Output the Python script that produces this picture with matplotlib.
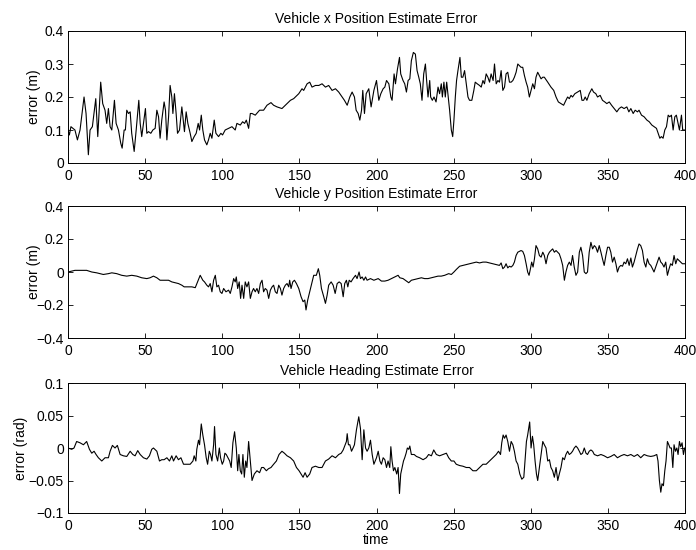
import matplotlib
matplotlib.use("Agg")
import matplotlib.pyplot as plt

plt.rcParams['font.family'] = ['Liberation Sans', 'DejaVu Sans']

# ---------------- data ----------------
x_time = [0, 0.9, 1.9, 4.5, 6.1, 7.8, 10.4, 11.7, 13.2, 14.3, 15.8, 18, 19.3, 21.2, 22.5, 24, 25.1, 26.2,
          27.3, 28.4, 30.1, 31.2, 32.7, 34.2, 35.1, 36.4, 37.2, 38.1, 39.2, 40.3, 41.3, 42.9, 44.2, 45.9,
          46.8, 47.8, 48.9, 50.2, 51.1, 52.2, 53.7, 55, 56.5, 57.6, 58.7, 59.7, 60.8, 62.3, 63.2, 64.1,
          65.2, 66.2, 67.3, 68, 69, 70.1, 71, 72.3, 73.8, 74.9, 75.5, 76.6, 77.7, 79.2, 80.3, 81.8, 83.1,
          84.4, 85.3, 86.4, 87.4, 88.5, 90, 91.1, 92.2, 93.3, 94.8, 95.9, 97.6, 99.1, 100.2, 101.9, 104.1,
          106.3, 108.4, 109.5, 111.7, 113.2, 114.5, 115.6, 117.1, 118.2, 119.3, 121.4, 124.2, 126.8, 129,
          131.6, 133.3, 135.5, 138.7, 142, 144.2, 146.3, 149.6, 151.7, 152.8, 155, 156.7, 158.2, 160.4,
          162.6, 164.7, 166.9, 169, 171.2, 173.4, 175.5, 177.7, 179.2, 181, 182.7, 184.2, 185.7, 186.8,
          188.1, 189.2, 190.3, 191.1, 192.2, 193.3, 195, 196.5, 198.3, 200, 201.5, 202.8, 204.3, 205.4,
          206.5, 208, 209.3, 210.1, 211.4, 212.3, 213.6, 214.9, 215.7, 217.2, 218.3, 219.4, 220.5, 221.6,
          222.6, 223.9, 225.2, 226.3, 227.4, 228.4, 229.5, 230.6, 231.7, 232.5, 233.4, 234.5, 235.1, 236.2,
          237.3, 238.6, 239.9, 240.9, 242, 242.7, 243.7, 244.6, 245.5, 246.3, 247.4, 248.5, 249.4, 250.2,
          251.1, 251.9, 252.8, 254.1, 255, 256, 257.1, 258.2, 259.3, 260.3, 261.8, 263.1, 264, 265.3,
          266.8, 267.9, 269, 270, 271.1, 272.2, 273.3, 274.3, 275.6, 276.5, 277.6, 278.7, 279.7, 280.8,
          281.9, 283, 284, 285.1, 286.2, 287.3, 288.4, 289.4, 290.5, 291.6, 292.7, 293.7, 294.8, 295.9,
          297, 298, 299.1, 300.2, 301.3, 302.4, 303.4, 304.5, 305.6, 306.7, 307.8, 308.8, 311, 313.1,
          314.9, 316.4, 317.9, 319.6, 321.3, 322.8, 323.9, 325, 326.1, 327.1, 328.6, 330.4, 332.1, 333.2,
          334.3, 335.3, 336.4, 337.9, 339.6, 340.7, 342.2, 343.3, 345, 346.5, 348, 349.3, 350.9, 352.4,
          354.1, 355.8, 357.3, 358.8, 360.5, 362.3, 363.6, 364.9, 366.4, 367.7, 369.2, 370.2, 371.8,
          373.5, 375.3, 376.8, 378.5, 380, 381.5, 382.6, 383.7, 384.7, 385.8, 386.9, 388, 389.1, 390.1,
          391.2, 392.3, 393.4, 394.4, 395.5, 396.4, 397.7, 398.5, 399.8]
x_err = [0.1, 0.085, 0.11, 0.1, 0.07, 0.1, 0.2, 0.15, 0.025, 0.1, 0.11, 0.195, 0.08, 0.245, 0.18, 0.16,
         0.12, 0.165, 0.11, 0.1, 0.19, 0.12, 0.1, 0.06, 0.045, 0.1, 0.1, 0.16, 0.15, 0.155, 0.09, 0.035,
         0.1, 0.19, 0.12, 0.08, 0.12, 0.165, 0.09, 0.095, 0.09, 0.1, 0.105, 0.16, 0.14, 0.075, 0.13, 0.185,
         0.16, 0.07, 0.14, 0.235, 0.2, 0.15, 0.21, 0.15, 0.09, 0.1, 0.17, 0.12, 0.095, 0.155, 0.12, 0.09,
         0.065, 0.08, 0.09, 0.12, 0.1, 0.145, 0.1, 0.07, 0.055, 0.07, 0.09, 0.075, 0.13, 0.09, 0.08, 0.09,
         0.085, 0.1, 0.105, 0.11, 0.1, 0.12, 0.115, 0.125, 0.12, 0.13, 0.105, 0.15, 0.15, 0.145, 0.16,
         0.16, 0.175, 0.183, 0.175, 0.17, 0.165, 0.18, 0.19, 0.195, 0.21, 0.225, 0.22, 0.24, 0.245, 0.23,
         0.235, 0.235, 0.24, 0.23, 0.235, 0.22, 0.225, 0.215, 0.2, 0.19, 0.175, 0.2, 0.215, 0.2, 0.16,
         0.15, 0.13, 0.16, 0.22, 0.15, 0.21, 0.225, 0.17, 0.22, 0.25, 0.19, 0.21, 0.225, 0.23, 0.25, 0.24,
         0.2, 0.19, 0.27, 0.24, 0.285, 0.32, 0.27, 0.25, 0.24, 0.215, 0.25, 0.255, 0.31, 0.335, 0.33, 0.28,
         0.26, 0.24, 0.19, 0.27, 0.3, 0.25, 0.2, 0.25, 0.2, 0.19, 0.2, 0.185, 0.23, 0.21, 0.24, 0.2, 0.245,
         0.2, 0.245, 0.21, 0.16, 0.1, 0.08, 0.13, 0.2, 0.25, 0.28, 0.32, 0.26, 0.26, 0.28, 0.24, 0.2, 0.19,
         0.19, 0.22, 0.245, 0.24, 0.235, 0.23, 0.25, 0.24, 0.27, 0.26, 0.245, 0.27, 0.25, 0.3, 0.24, 0.25,
         0.245, 0.28, 0.22, 0.23, 0.27, 0.275, 0.245, 0.245, 0.25, 0.26, 0.275, 0.3, 0.295, 0.29, 0.29,
         0.265, 0.245, 0.23, 0.2, 0.22, 0.24, 0.225, 0.26, 0.275, 0.265, 0.255, 0.26, 0.26, 0.245, 0.23,
         0.22, 0.2, 0.185, 0.18, 0.175, 0.19, 0.2, 0.195, 0.205, 0.2, 0.21, 0.215, 0.22, 0.19, 0.19, 0.2,
         0.19, 0.21, 0.225, 0.215, 0.21, 0.2, 0.205, 0.19, 0.185, 0.18, 0.185, 0.175, 0.165, 0.155, 0.165,
         0.17, 0.165, 0.17, 0.155, 0.165, 0.15, 0.16, 0.155, 0.16, 0.145, 0.14, 0.13, 0.125, 0.115, 0.11,
         0.105, 0.09, 0.075, 0.08, 0.075, 0.1, 0.11, 0.145, 0.14, 0.145, 0.1, 0.14, 0.145, 0.12, 0.1, 0.145,
         0.1, 0.1]

y_time = [0, 4.5, 7.8, 12.1, 15.4, 18.6, 22.9, 26.2, 28.4, 31.6, 34.8, 38.1, 41.3, 44.6, 47.8, 51.1, 53.2,
          55.4, 57.6, 59.7, 63, 65.2, 67.3, 69.5, 71.6, 73.8, 75.3, 78.1, 80.3, 82.5, 84, 85.7, 87.4, 88.5,
          90, 91.1, 92.2, 93.3, 94.4, 95.5, 96.5, 97.6, 98.7, 99.8, 100.9, 102.4, 104.1, 105.2, 106.3,
          107.4, 108.4, 109.1, 110, 111, 111.9, 112.8, 113.9, 114.9, 116, 117.1, 118.2, 119.3, 120.3,
          121.4, 122.5, 123.6, 124.7, 125.8, 126.8, 127.9, 129, 130.1, 131.2, 132.3, 133.3, 134.4, 135.5,
          136.6, 137.7, 138.7, 139.8, 140.9, 142, 143.1, 143.7, 144.6, 145.7, 146.8, 148.1, 149.6, 151.1,
          152.4, 153.5, 154.3, 155.4, 156.7, 158.2, 159.3, 161, 162.3, 163.2, 164.3, 165.8, 166.9, 168,
          169, 170.6, 171.9, 173.2, 174.5, 175.8, 177.1, 178.4, 179.4, 180.5, 181.4, 182.3, 183.5, 184.8,
          186.4, 187.4, 188.7, 189.6, 190.7, 191.8, 192.9, 193.9, 196.1, 198.3, 201.1, 203.2, 205.4,
          207.5, 209.7, 211.9, 214, 215.1, 217.2, 219.4, 220.9, 222.6, 224.8, 226.9, 229.1, 231.2, 233.4,
          235.6, 237.7, 239.9, 242, 244.2, 246.8, 248.5, 250.2, 251.7, 253.9, 256, 258.2, 260.3, 262.5,
          264.7, 266.8, 269, 271.1, 273.3, 275.4, 277.6, 279.7, 280.8, 281.9, 283, 284, 285.1, 286.2,
          287.3, 288.4, 289.4, 290.5, 291.6, 292.7, 293.7, 294.8, 295.9, 297, 298, 298.9, 299.8, 300.6,
          301.5, 302.4, 303.4, 304.5, 305.6, 306.7, 307.8, 308.8, 309.9, 311, 312.1, 313.1, 314.2, 315.3,
          316.4, 317.5, 318.5, 319.6, 320.7, 321.8, 322.8, 323.9, 325, 326.1, 327.1, 328.2, 329.3, 330.4,
          331.5, 332.5, 333.6, 334.7, 335.8, 336.8, 337.9, 339, 340.1, 341.2, 342.2, 343.3, 344.4, 345.5,
          346.5, 347.6, 348.7, 349.8, 350.9, 351.9, 353, 354.1, 355.2, 356.2, 357.3, 358.4, 359.5, 360.5,
          361.6, 362.7, 363.8, 364.9, 365.9, 367, 368.1, 369.2, 370.2, 371.3, 372.4, 373.5, 374.6, 375.6,
          376.7, 377.8, 378.9, 379.9, 381, 382.1, 383.2, 384.3, 385.3, 386.4, 387.5, 388.6, 389.7, 390.7,
          391.8, 392.9, 394, 395, 396.1, 397.2, 398.3, 399.8]
y_err = [0, 0.01, 0.01, 0.01, 0, -0.005, -0.015, -0.01, -0.005, -0.01, -0.02, -0.025, -0.02, -0.025,
         -0.035, -0.04, -0.035, -0.025, -0.035, -0.05, -0.05, -0.05, -0.06, -0.065, -0.07, -0.08, -0.09,
         -0.09, -0.09, -0.095, -0.06, -0.02, -0.05, -0.06, -0.08, -0.09, -0.07, -0.12, -0.05, -0.02, -0.09,
         -0.08, -0.12, -0.13, -0.1, -0.12, -0.11, -0.13, -0.09, -0.04, -0.06, -0.03, -0.1, -0.06, -0.16,
         -0.08, -0.16, -0.06, -0.09, -0.06, -0.16, -0.12, -0.1, -0.12, -0.1, -0.13, -0.07, -0.05, -0.12,
         -0.1, -0.11, -0.16, -0.11, -0.09, -0.08, -0.12, -0.13, -0.08, -0.1, -0.14, -0.1, -0.08, -0.07,
         -0.09, -0.05, -0.1, -0.06, -0.05, -0.07, -0.1, -0.15, -0.18, -0.17, -0.23, -0.17, -0.12, -0.06,
         -0.02, -0.02, 0.02, -0.02, -0.1, -0.15, -0.19, -0.14, -0.08, -0.06, -0.08, -0.13, -0.07, -0.06,
         -0.07, -0.15, -0.07, -0.05, -0.09, -0.05, -0.06, -0.04, -0.02, -0.04, 0, -0.04, -0.03, -0.05,
         -0.03, -0.05, -0.04, -0.05, -0.04, -0.055, -0.055, -0.05, -0.04, -0.03, -0.02, -0.035, -0.04,
         -0.055, -0.065, -0.05, -0.045, -0.04, -0.035, -0.04, -0.04, -0.035, -0.03, -0.025, -0.025, -0.02,
         -0.01, -0.015, 0, 0.015, 0.035, 0.04, 0.045, 0.05, 0.055, 0.06, 0.055, 0.06, 0.06, 0.055, 0.05,
         0.045, 0.04, 0.055, 0.02, 0.03, 0.05, 0.025, 0.035, 0.03, 0.04, 0.06, 0.1, 0.12, 0.125, 0.13,
         0.125, 0.1, 0.05, 0, -0.02, 0.02, 0.06, 0.03, 0.08, 0.16, 0.14, 0.1, 0.09, 0.12, 0.1, 0.05, 0.1,
         0.12, 0.13, 0.14, 0.12, 0.13, 0.12, 0.11, 0.08, 0.04, -0.05, 0, 0.04, 0.06, 0.04, 0.1, 0.03, -0.02,
         0, 0.12, 0.15, 0.1, 0, -0.01, 0, 0.12, 0.18, 0.14, 0.16, 0.15, 0.12, 0.16, 0.12, 0.08, 0.04, 0.1,
         0.15, 0.15, 0.12, 0.06, 0.09, 0.05, 0, 0.03, 0.04, 0.035, 0.06, 0.05, 0.08, 0.04, 0.085, 0.03,
         0.06, 0.1, 0.14, 0.17, 0.16, 0.13, 0.06, 0.03, 0.08, 0.05, 0.04, 0.02, 0, 0.03, 0.06, 0.09, 0.06,
         0.05, 0.03, 0.06, -0.02, 0.02, 0.05, 0.04, 0.1, 0.05, 0.08, 0.07, 0.06, 0.05, 0.05]

h_time = [0, 2.4, 3.9, 5.6, 7.8, 10, 12.1, 13.9, 15.4, 16.9, 18.2, 19.7, 21.9, 24, 26.2, 27.3, 28.8, 30.5,
          32, 33.8, 35.9, 38.1, 40.3, 42, 43.5, 45.2, 46.8, 48.9, 51.1, 52.8, 54.3, 55.4, 57.6, 59.3, 60.8,
          62.3, 64.1, 65.8, 67.3, 68.4, 70.1, 71.6, 73.2, 74.9, 77.1, 79.2, 81, 81.8, 82.9, 83.5, 84.6,
          85.3, 86.4, 87.4, 88.5, 89.6, 90.5, 91.6, 92.4, 93.3, 94.4, 95, 95.9, 97, 98.1, 98.9, 100, 100.9,
          101.7, 102.6, 103.7, 104.8, 105.8, 106.9, 108, 109.1, 110, 110.8, 111.7, 112.6, 113.4, 114.3,
          115.2, 116, 117.1, 118.2, 119.3, 120.8, 122.5, 124.2, 125.5, 126.8, 128.6, 129.9, 131.6, 133.3,
          135.1, 136.8, 138.7, 140.3, 142, 144.2, 146.3, 148.1, 149.8, 151.1, 152.4, 153.7, 155, 156.7,
          158.2, 160.4, 162.6, 164.7, 166.9, 169, 171.2, 173.4, 175.5, 177.1, 178.4, 179.4, 180.5, 181,
          181.8, 182.7, 183.8, 184.8, 185.7, 187, 188.5, 189.6, 190.7, 191.8, 192.9, 193.9, 195, 196.1,
          197.2, 198.3, 200, 201.1, 202.2, 203.2, 204.3, 205.4, 206.5, 207.5, 208.6, 209.3, 210.1, 211,
          211.9, 213.1, 214, 214.9, 215.7, 216.6, 217.5, 218.3, 219.2, 220, 220.9, 221.6, 222.6, 224.4,
          225.9, 228, 230.2, 232.3, 233.8, 235.6, 237.1, 238.8, 240.9, 243.1, 245.3, 246.8, 248.5, 250.2,
          251.7, 253.9, 256, 258.2, 260.3, 262.5, 264.7, 266.8, 269, 271.1, 273.3, 275.4, 277.6, 279.1,
          280.4, 281.2, 282.1, 283, 284, 285.1, 286.2, 287.3, 288.4, 289.4, 290.5, 291.6, 292.9, 294.2,
          295.5, 296.3, 297.2, 298, 299.3, 300.2, 301.1, 301.9, 302.8, 303.7, 304.5, 305.6, 306.7, 307.8,
          308.8, 309.9, 311, 312.1, 313.1, 314.2, 315.3, 316.4, 317.5, 318.5, 319.6, 320.7, 321.8, 322.8,
          323.9, 325, 326.1, 327.1, 328.2, 329.3, 330.4, 331.5, 332.5, 333.6, 334.7, 335.8, 336.8, 337.9,
          339, 340.1, 341.2, 343.3, 345.5, 347.6, 349.8, 351.9, 354.1, 356.2, 358.4, 360.5, 362.7, 364.9,
          367, 369.2, 371.3, 373.5, 375.6, 377.8, 379.9, 381.7, 382.5, 383.4, 384.3, 385.1, 386, 386.9,
          387.7, 388.6, 389.5, 390.3, 391.2, 392.1, 392.9, 393.8, 394.7, 395.5, 396.4, 397.2, 398.1, 399,
          399.8]
h_err = [0, -0.002, 0, 0.01, 0.008, 0.005, 0.01, -0.002, -0.008, -0.005, -0.01, -0.015, -0.02, -0.015,
         -0.015, -0.005, 0.004, 0, 0.004, -0.01, -0.012, -0.013, -0.005, -0.01, -0.012, -0.004, -0.01,
         -0.015, -0.017, -0.012, -0.002, 0, -0.005, -0.02, -0.018, -0.018, -0.015, -0.02, -0.012, -0.02,
         -0.012, -0.018, -0.015, -0.025, -0.025, -0.025, -0.02, -0.012, -0.02, -0.002, 0.012, 0.005,
         0.037, 0.02, 0.005, -0.015, -0.025, -0.005, -0.01, -0.02, 0.005, 0.033, -0.01, -0.02, 0, -0.015,
         -0.025, -0.02, -0.008, -0.01, -0.015, -0.02, -0.03, 0.008, 0.025, 0, -0.035, -0.01, -0.035, -0.04,
         -0.01, -0.045, -0.02, -0.03, 0.01, -0.02, -0.05, -0.04, -0.035, -0.038, -0.03, -0.03, -0.035,
         -0.032, -0.03, -0.025, -0.02, -0.01, -0.005, -0.008, -0.012, -0.015, -0.02, -0.03, -0.035, -0.04,
         -0.045, -0.038, -0.045, -0.04, -0.03, -0.028, -0.03, -0.03, -0.02, -0.017, -0.012, -0.015, -0.01,
         -0.008, -0.003, 0.003, 0.01, 0.022, 0.005, 0.005, -0.005, 0, 0.005, 0.028, 0.048, 0.03, -0.018,
         0.028, 0, -0.005, 0, 0.012, -0.01, -0.025, -0.015, -0.005, -0.02, -0.025, -0.015, -0.018, -0.03,
         -0.02, -0.03, 0.002, -0.02, -0.035, -0.03, -0.04, -0.03, -0.07, -0.04, -0.03, -0.02, -0.015,
         -0.008, 0, -0.002, 0.003, -0.01, -0.01, -0.013, -0.015, -0.018, -0.015, -0.01, -0.012, -0.003,
         -0.01, -0.012, -0.01, -0.008, -0.015, -0.02, -0.02, -0.025, -0.027, -0.028, -0.03, -0.03, -0.035,
         -0.035, -0.03, -0.025, -0.025, -0.02, -0.015, -0.01, -0.005, -0.01, 0.008, 0.02, 0.015, 0.02,
         0.01, -0.005, 0.01, 0.005, -0.005, -0.02, -0.025, -0.04, -0.048, -0.045, -0.02, 0.01, 0.02, 0.04,
         0, 0.018, 0.005, -0.02, -0.04, -0.05, -0.03, -0.01, 0.01, 0.005, 0, -0.02, -0.018, -0.03, -0.035,
         -0.045, -0.03, -0.05, -0.04, -0.03, -0.015, -0.018, -0.01, -0.005, -0.01, -0.008, -0.005, 0,
         0.003, 0, -0.005, -0.01, -0.008, 0, -0.008, -0.01, -0.005, -0.003, -0.005, -0.01, -0.012, -0.01,
         -0.012, -0.015, -0.013, -0.01, -0.015, -0.012, -0.01, -0.012, -0.01, -0.013, -0.01, -0.015,
         -0.01, -0.012, -0.013, -0.012, -0.01, -0.02, -0.05, -0.068, -0.055, -0.058, -0.035, -0.02, 0.01,
         0.005, 0, 0, -0.03, 0.005, -0.005, 0, -0.01, 0.01, 0.002, 0.008, -0.01, 0]

x_ticks = [0, 50, 100, 150, 200, 250, 300, 350, 400]
x_ticklabels = ['0', '50', '100', '150', '200', '250', '300', '350', '400']
yticks_1 = [0, 0.1, 0.2, 0.3, 0.4]
yticklabels_1 = ['0', '0.1', '0.2', '0.3', '0.4']
yticks_2 = [-0.4, -0.2, 0, 0.2, 0.4]
yticklabels_2 = ['\u22120.4', '\u22120.2', '0', '0.2', '0.4']
yticks_3 = [-0.1, -0.05, 0, 0.05, 0.1]
yticklabels_3 = ['\u22120.1', '\u22120.05', '0', '0.05', '0.1']

titles = ['Vehicle x Position Estimate Error', 'Vehicle y Position Estimate Error',
          'Vehicle Heading Estimate Error']
ylabels = ['error (m)', 'error (m)', 'error (rad)']

# ---------------- figure ----------------
W, H = 696, 550
fig = plt.figure(figsize=(W / 100, H / 100), dpi=100)
left, width = 68 / W, 617 / W
boxes = [(31, 163), (206, 338), (383, 513)]
ylabel_px = [41, 41, 28]   # pixel x of the ylabel's right edge

series = [(x_time, x_err, yticks_1, yticklabels_1),
          (y_time, y_err, yticks_2, yticklabels_2),
          (h_time, h_err, yticks_3, yticklabels_3)]

FS = 10
for i, ((top, bot), (t, v, yt, ytl)) in enumerate(zip(boxes, series)):
    ax = fig.add_axes([left, 1 - bot / H, width, (bot - top) / H])
    ax.plot(t, v, color='black', linewidth=0.8)
    ax.set_xlim(x_ticks[0], x_ticks[-1])
    ax.set_ylim(yt[0], yt[-1])
    ax.set_xticks(x_ticks)
    ax.set_xticklabels(x_ticklabels)
    ax.set_yticks(yt)
    ax.set_yticklabels(ytl)
    ax.tick_params(direction='in', top=True, right=True, length=3.8, width=0.6,
                   labelsize=FS)
    ax.tick_params(axis='x', pad=4)
    ax.tick_params(axis='y', pad=3)
    for s in ax.spines.values():
        s.set_linewidth(0.7)
    ax.set_title(titles[i], fontsize=FS, pad=6)
    ax.set_ylabel(ylabels[i], fontsize=FS)
    ax.yaxis.set_label_coords((ylabel_px[i] - 68) / 617, 0.5)
    if i == 2:
        ax.set_xlabel('time', fontsize=FS, labelpad=0)

fig.savefig('out.png', dpi=100)
